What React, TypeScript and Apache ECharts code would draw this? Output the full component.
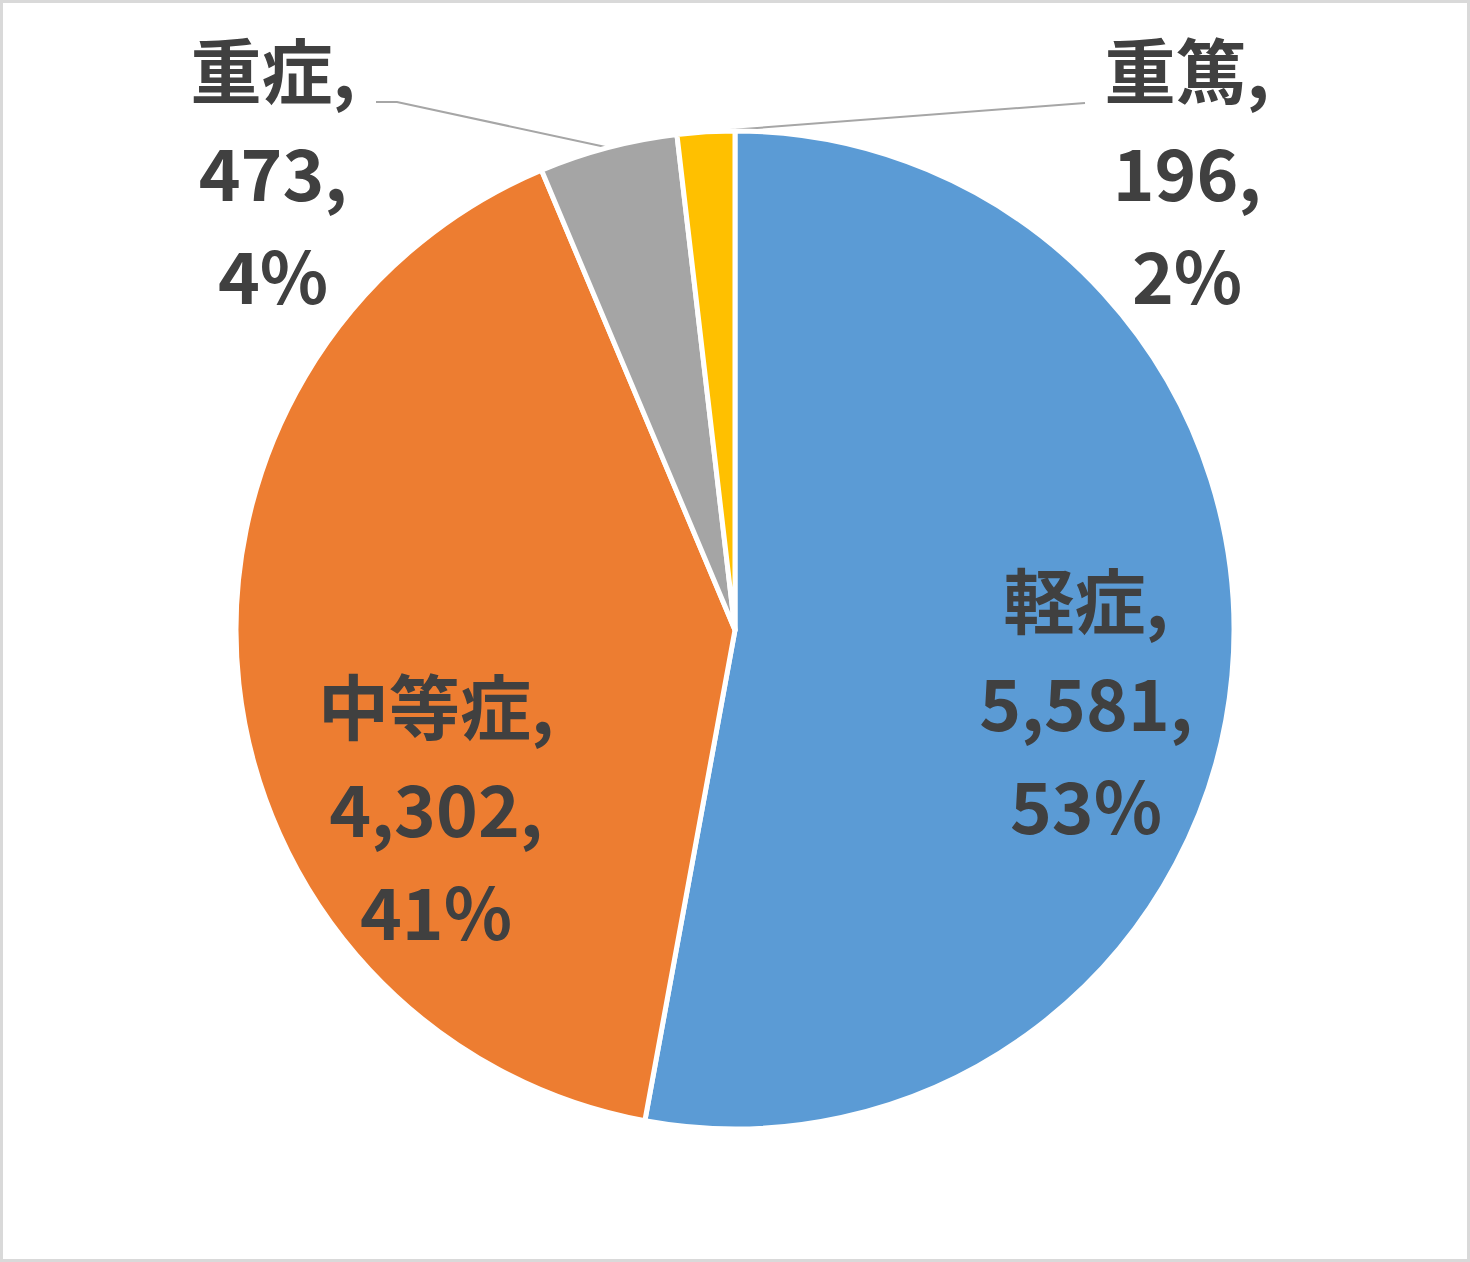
import React, { useEffect, useRef } from 'react';
import * as echarts from 'echarts';

// ---- data ----
const categories: string[] = ['軽症', '中等症', '重症', '重篤'];
const values: number[] = [5581, 4302, 473, 196];
const sliceColors: string[] = ['#5B9BD5', '#ED7D31', '#A5A5A5', '#FFC000'];
const labelPlacement: string[] = ['inside', 'inside', 'outside', 'outside'];

// ---- layout ----
const W = 1470;
const H = 1262;
const CENTER = [735, 630];
const RADIUS = 499;
// centres of the label text blocks
const LABEL_CENTERS: number[][] = [
  [1086, 700],
  [436, 806],
  [273, 170],
  [1187, 170],
];
// leader line tail points (after the edge point supplied by ECharts)
const LEADER_TAILS: (number[][] | null)[] = [
  null,
  null,
  [[397, 102], [376, 102]],
  [[1085, 103]],
];

export default function App() {
  const ref = useRef<HTMLDivElement>(null);

  useEffect(() => {
    if (!ref.current) return;
    const chart = echarts.init(ref.current, undefined, { renderer: 'svg' });

    const data = categories.map((name, i) => ({
      name,
      value: values[i],
      itemStyle: { color: sliceColors[i] },
      label: { position: labelPlacement[i] },
      labelLine: { show: labelPlacement[i] === 'outside' },
    }));

    chart.setOption({
      animation: false,
      backgroundColor: '#ffffff',
      graphic: [
        {
          type: 'rect',
          shape: { x: 1.5, y: 1.5, width: W - 3, height: H - 3 },
          style: { fill: 'none', stroke: '#D9D9D9', lineWidth: 3 },
          silent: true,
        },
      ],
      series: [
        {
          type: 'pie',
          center: CENTER,
          radius: RADIUS,
          startAngle: 90,
          clockwise: true,
          avoidLabelOverlap: false,
          silent: true,
          itemStyle: { borderColor: '#ffffff', borderWidth: 5 },
          label: {
            show: true,
            color: '#404040',
            fontFamily: "'Noto Sans CJK JP', 'Noto Sans', sans-serif",
            fontWeight: 'bold',
            fontSize: 71,
            lineHeight: 103,
            align: 'center',
            formatter: (p: any) =>
              `${p.name},\n${Number(p.value).toLocaleString('en-US')},\n${Math.round(p.percent)}%`,
          },
          labelLine: {
            show: true,
            length: 20,
            length2: 20,
            smooth: false,
            lineStyle: { color: '#A6A6A6', width: 2 },
          },
          labelLayout: (params: any) => {
            const i = params.dataIndex;
            const res: any = {
              x: LABEL_CENTERS[i][0],
              y: LABEL_CENTERS[i][1],
              align: 'center',
              verticalAlign: 'middle',
            };
            const tail = LEADER_TAILS[i];
            if (tail && params.labelLinePoints && params.labelLinePoints.length) {
              res.labelLinePoints = [params.labelLinePoints[0], ...tail];
            }
            return res;
          },
          emphasis: { disabled: true },
          data,
        },
      ],
    });

    return () => {
      chart.dispose();
    };
  }, []);

  return (
    <div
      ref={ref}
      style={{ position: 'absolute', left: 0, top: 0, width: W, height: H, background: '#fff' }}
    />
  );
}
